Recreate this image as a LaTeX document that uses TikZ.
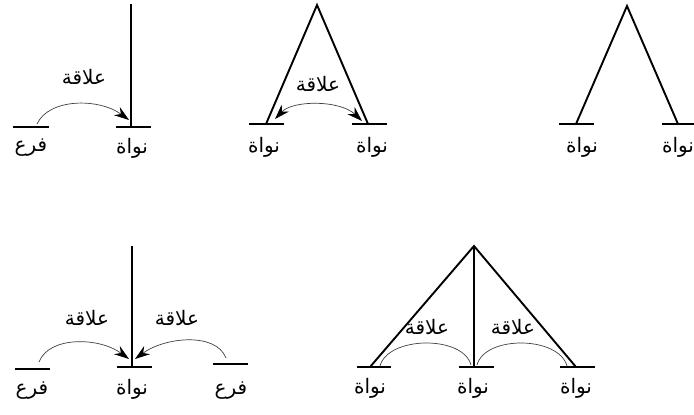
\documentclass[tikz,border=0pt]{standalone}
\usepackage{fontspec}
\newfontfamily\arabicfont[Script=Arabic]{DejaVu Sans}
\TeXXeTstate=1
\usetikzlibrary{arrows.meta}
\newcommand{\artxt}[1]{\beginR #1\endR}
\begin{document}
\begin{tikzpicture}[x=1pt,y=-1pt,
  thick line/.style={line width=1.9pt, black},
  rel/.style={line width=0.7pt, black!75},
  tip/.style={-{Stealth[length=15pt,width=10pt,inset=5pt,black]}},
  tips/.style={{Stealth[length=15pt,width=10pt,inset=5pt,black]}-{Stealth[length=15pt,width=10pt,inset=5pt,black]}},
  lbl/.style={font=\arabicfont\fontsize{20}{22}\selectfont, inner sep=0pt}]
\useasboundingbox (0,0) rectangle (694,415);

% ---------- Panel 1 ----------
\coordinate (p1top) at (131,4);
\coordinate (p1n) at (131,127);
\coordinate (p1nL) at (116,127); \coordinate (p1nR) at (151,127);
\coordinate (p1fL) at (13,127); \coordinate (p1fR) at (49,127);
\coordinate (p1s) at (37,124);
\coordinate (p1e) at (129,120);
\draw[thick line] (p1top) -- (p1n);
\draw[thick line] (p1nL) -- (p1nR);
\draw[thick line] (p1fL) -- (p1fR);
\draw[rel,tip] (p1s) .. controls +(12,-26) and +(-30,-22) .. (p1e);
\node[lbl] (p1rel) at (84,77) {\artxt{علاقة}};
\node[lbl] (p1fl) at (31,148) {\artxt{فرع}};
\node[lbl] (p1nl) at (132,148) {\artxt{نواة}};

% ---------- Panel 2 ----------
\coordinate (p2top) at (317,5);
\coordinate (p2l) at (266,124);
\coordinate (p2r) at (368,124);
\coordinate (p2lL) at (249,124); \coordinate (p2lR) at (284,124);
\coordinate (p2rL) at (352,124); \coordinate (p2rR) at (387,124);
\coordinate (p2s) at (275,119);
\coordinate (p2e) at (362,121);
\draw[thick line] (p2l) -- (p2top) -- (p2r);
\draw[thick line] (p2lL) -- (p2lR);
\draw[thick line] (p2rL) -- (p2rR);
\draw[rel,tips] (p2s) .. controls +(18,-19) and +(-22,-21) .. (p2e);
\node[lbl] (p2rel) at (318,84) {\artxt{علاقة}};
\node[lbl] (p2nl1) at (264,147) {\artxt{نواة}};
\node[lbl] (p2nl2) at (372,147) {\artxt{نواة}};

% ---------- Panel 3 ----------
\coordinate (p3top) at (627,6);
\coordinate (p3l) at (576,124);
\coordinate (p3r) at (678,124);
\coordinate (p3lL) at (559,124); \coordinate (p3lR) at (594,124);
\coordinate (p3rL) at (662,124); \coordinate (p3rR) at (697,124);
\draw[thick line] (p3l) -- (p3top) -- (p3r);
\draw[thick line] (p3lL) -- (p3lR);
\draw[thick line] (p3rL) -- (p3rR);
\node[lbl] (p3nl1) at (582,147) {\artxt{نواة}};
\node[lbl] (p3nl2) at (678,147) {\artxt{نواة}};

% ---------- Panel 4 ----------
\coordinate (p4top) at (132,246);
\coordinate (p4n) at (132,366);
\coordinate (p4nL) at (117,367); \coordinate (p4nR) at (152,367);
\coordinate (p4aL) at (15,369); \coordinate (p4aR) at (50,369);
\coordinate (p4bL) at (213,364); \coordinate (p4bR) at (248,364);
\coordinate (p4s1) at (39,362);
\coordinate (p4e1) at (129,359);
\coordinate (p4s2) at (226,358);
\coordinate (p4e2) at (135,359);
\draw[thick line] (p4top) -- (p4n);
\draw[thick line] (p4nL) -- (p4nR);
\draw[thick line] (p4aL) -- (p4aR);
\draw[thick line] (p4bL) -- (p4bR);
\draw[rel,tip] (p4s1) .. controls +(10,-26) and +(-30,-22) .. (p4e1);
\draw[rel,tip] (p4s2) .. controls +(-10,-26) and +(30,-22) .. (p4e2);
\node[lbl] (p4rel1) at (87,318) {\artxt{علاقة}};
\node[lbl] (p4rel2) at (177,318) {\artxt{علاقة}};
\node[lbl] (p4fl1) at (32,391) {\artxt{فرع}};
\node[lbl] (p4nl) at (132,389) {\artxt{نواة}};
\node[lbl] (p4fl2) at (231,391) {\artxt{فرع}};

% ---------- Panel 5 ----------
\coordinate (p5top) at (474,246);
\coordinate (p5l) at (370,367);
\coordinate (p5c) at (474,367);
\coordinate (p5r) at (576,367);
\coordinate (p5lL) at (357,367); \coordinate (p5lR) at (391,367);
\coordinate (p5cL) at (459,367); \coordinate (p5cR) at (494,367);
\coordinate (p5rL) at (560,367); \coordinate (p5rR) at (595,367);
\coordinate (p5s1) at (380,366);
\coordinate (p5e1) at (471,365);
\coordinate (p5s2) at (477,365);
\coordinate (p5e2) at (567,366);
\draw[thick line] (p5l) -- (p5top) -- (p5r);
\draw[thick line] (p5top) -- (p5c);
\draw[thick line] (p5lL) -- (p5lR);
\draw[thick line] (p5cL) -- (p5cR);
\draw[thick line] (p5rL) -- (p5rR);
\draw[rel] (p5s1) .. controls +(8,-30) and +(-8,-30) .. (p5e1);
\draw[rel] (p5s2) .. controls +(8,-30) and +(-8,-30) .. (p5e2);
\node[lbl] (p5rel1) at (427,327) {\artxt{علاقة}};
\node[lbl] (p5rel2) at (513,327) {\artxt{علاقة}};
\node[lbl] (p5nl1) at (370,388) {\artxt{نواة}};
\node[lbl] (p5nl2) at (473,388) {\artxt{نواة}};
\node[lbl] (p5nl3) at (576,388) {\artxt{نواة}};
\end{tikzpicture}
\end{document}
